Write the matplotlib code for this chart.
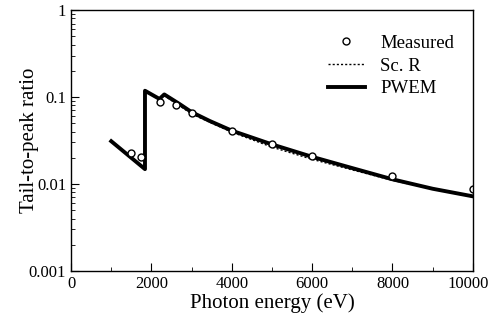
import matplotlib.pyplot as plt
from matplotlib.ticker import FixedLocator, NullFormatter
from matplotlib.transforms import ScaledTranslation

plt.rcParams['font.family'] = ['Liberation Serif', 'DejaVu Serif']

# PWEM calculation
pwem_e = [1000, 1840, 1840, 2200, 2320, 2700, 3000, 3450, 4000, 5000, 6000, 7000, 8000, 9000, 10000]
pwem_r = [0.031, 0.0148, 0.118, 0.095, 0.107, 0.083, 0.067, 0.053, 0.041, 0.0285, 0.0205, 0.0152, 0.0113, 0.0088, 0.0072]

# Sc. R
scr_e = [2400, 3000, 3500, 4000, 5000, 6000, 7000, 8000, 9000, 10000]
scr_r = [0.098, 0.064, 0.050, 0.0395, 0.0265, 0.0192, 0.0145, 0.0110, 0.0087, 0.0071]

# measured
meas_e = [1490, 1740, 2210, 2610, 3020, 4010, 5010, 6000, 8000, 10000]
meas_r = [0.0225, 0.0205, 0.088, 0.081, 0.065, 0.041, 0.0285, 0.0208, 0.0122, 0.0088]

fig = plt.figure(figsize=(4.9, 3.24), dpi=100)
ax = fig.add_axes([0.145, 0.164, 0.82, 0.805])

ax.plot(scr_e, scr_r, color='black', lw=1.0, ls=(0, (1.5, 1.5)), label='Sc. R')
ax.plot(pwem_e, pwem_r, color='black', lw=2.8, label='PWEM')
ax.plot(meas_e, meas_r, ls='none', marker='o', ms=5, mfc='white', mec='black', mew=1.0, label='Measured')

ax.set_yscale('log')
ax.set_xlim(0, 10000)
ax.set_ylim(0.001, 1)
ax.set_xticks([0, 2000, 4000, 6000, 8000, 10000])
ax.xaxis.set_minor_locator(FixedLocator(range(0, 10001, 1000)))
ax.set_yticks([0.001, 0.01, 0.1, 1])
ax.set_yticklabels(['0.001', '0.01', '0.1', '1'])
ax.yaxis.set_minor_formatter(NullFormatter())
ax.tick_params(which='both', direction='in', labelsize=12, top=False, right=False)
ax.tick_params(which='major', length=6)
ax.tick_params(which='minor', length=3)

# nudge last x label so it stays inside the figure
lbl = ax.get_xticklabels()[-1]
lbl.set_transform(lbl.get_transform() + ScaledTranslation(-5 / 100, 0, fig.dpi_scale_trans))

ax.set_xlabel('Photon energy (eV)', fontsize=15)
ax.set_ylabel('Tail-to-peak ratio', fontsize=15)
ax.xaxis.set_label_coords(0.5, -0.085)
ax.yaxis.set_label_coords(-0.08, 0.5)

h, l = ax.get_legend_handles_labels()
order = [2, 0, 1]
ax.legend([h[i] for i in order], [l[i] for i in order], loc='upper right',
          frameon=False, fontsize=13.5, handlelength=2.0, labelspacing=0.3,
          bbox_to_anchor=(0.995, 0.97))

for s in ax.spines.values():
    s.set_linewidth(1.0)

fig.savefig('out.png', dpi=100)
